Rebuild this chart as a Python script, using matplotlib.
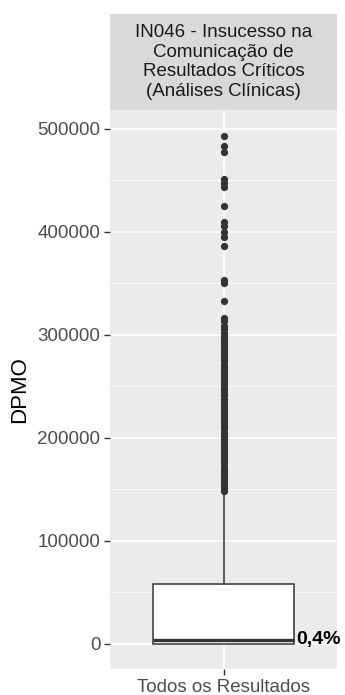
import matplotlib.pyplot as plt
from matplotlib.patches import Rectangle

plt.rcParams['font.family'] = ['Liberation Sans', 'DejaVu Sans']

panel_title = "IN046 - Insucesso na\nComunicação de\nResultados Críticos\n(Análises Clínicas)"
category = "Todos os Resultados"
y_label = "DPMO"
median_label = "0,4%"

q1 = 0
median = 4000
q3 = 58000
whisker_low = 0
whisker_high = 146000

outliers_top = [493000, 483000, 477000, 451000, 447000, 443000, 425000, 409000,
                405000, 400000, 395000, 386000, 353000, 350000, 333000, 316000,
                313000, 308000]
outliers_dense = [305000, 302000, 299000, 297000, 294000, 291000, 288000, 285000,
                  282000, 279000, 276000, 274000, 271000, 268000, 265000, 262000,
                  259000, 256000, 253000, 250000, 247000, 244000, 241000, 238000,
                  235000, 232000, 229000, 226000, 223000, 220000, 217000, 214000,
                  211000, 208000, 205000, 202000, 199000, 196000, 193000, 190000,
                  187000, 184000, 181000, 178000, 175000, 172000, 169000, 166000,
                  163000, 160000, 157000, 154000, 151000, 148000]

y_ticks = [0, 100000, 200000, 300000, 400000, 500000]
y_minor = [50000, 150000, 250000, 350000, 450000]

fig = plt.figure(figsize=(3.45, 6.95), dpi=100)
ax = fig.add_axes([110/345, 26/695, 227/345, 559/695])
ax.set_facecolor('#EBEBEB')

stats = [dict(med=median, q1=q1, q3=q3, whislo=whisker_low, whishi=whisker_high,
              fliers=outliers_top + outliers_dense)]
ax.bxp(stats, positions=[1], widths=0.75, patch_artist=True, showcaps=False,
       boxprops=dict(facecolor='white', edgecolor='#333333', linewidth=1.1),
       medianprops=dict(color='#333333', linewidth=2.4),
       whiskerprops=dict(color='#333333', linewidth=1.1),
       flierprops=dict(marker='o', markerfacecolor='#333333', markeredgecolor='#333333',
                       markersize=4.2, linestyle='none'),
       zorder=3)

ax.set_xlim(0.4, 1.6)
ax.set_ylim(-24500, 518000)
ax.set_xticks([1])
ax.set_xticklabels([category])
ax.set_yticks(y_ticks)
ax.set_yticklabels([str(v) for v in y_ticks])
ax.set_yticks(y_minor, minor=True)
ax.tick_params(axis='both', which='major', colors='#333333', length=4, width=1,
               labelcolor='#4D4D4D', labelsize=13.5, pad=3)
ax.tick_params(axis='y', which='minor', length=0)
ax.grid(True, which='major', color='white', linewidth=1.2, zorder=0)
ax.grid(True, which='minor', axis='y', color='white', linewidth=0.6, zorder=0)
ax.set_axisbelow(True)
for s in ax.spines.values():
    s.set_visible(False)

ax.set_ylabel(y_label, fontsize=16, color='black', labelpad=5)

ax.text(1.385, median, median_label, fontsize=14, fontweight='bold', color='black',
        ha='left', va='center', clip_on=False, zorder=5)

# facet strip
strip = fig.add_axes([110/345, 585/695, 227/345, 96/695])
strip.add_patch(Rectangle((0, 0), 1, 1, facecolor='#D9D9D9', edgecolor='none',
                          transform=strip.transAxes))
strip.set_xlim(0, 1)
strip.set_ylim(0, 1)
strip.axis('off')
strip.text(0.5, 0.5, panel_title, ha='center', va='center', fontsize=13.5,
           color='#1A1A1A', linespacing=1.2)

fig.savefig('out.png', dpi=100)
